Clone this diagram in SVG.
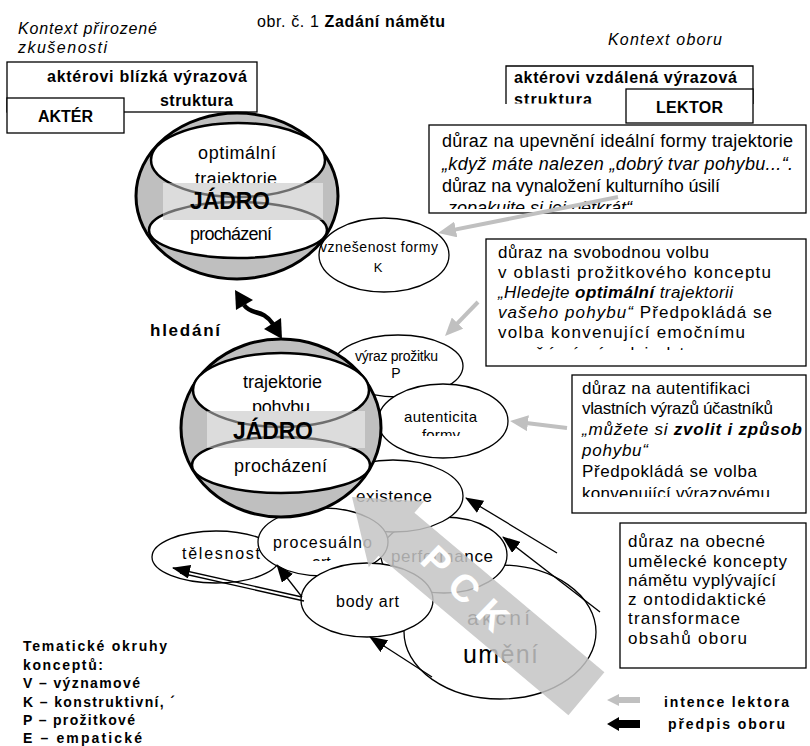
<svg xmlns="http://www.w3.org/2000/svg" width="810" height="746" viewBox="0 0 810 746">
<defs>
<style>
text{font-family:"Liberation Sans",Arial,sans-serif;fill:#000}
.box{fill:#fff;stroke:#000;stroke-width:1.3}
.b{font-weight:bold}
.i{font-style:italic}
.t14{font-size:14px}
.t16{font-size:16px}
.t17{font-size:17px}
.t18{font-size:18px}
.el{fill:#fff;stroke:#000;stroke-width:1.3}
.sph{fill:#bfbfbf;stroke:#000;stroke-width:3}
.inner{fill:#fff;stroke:#000;stroke-width:2.5}
.band{fill:#dcdcdc}
.gcurve{fill:none;stroke:#6e6e6e;stroke-width:2.5}
.conn{stroke:#000;stroke-width:1.3;fill:none;marker-end:url(#ah)}
.line{stroke:#000;stroke-width:1.3;fill:none}
.gconn{stroke:#c0c0c0;stroke-width:4;fill:none;marker-end:url(#gah)}
.mid{text-anchor:middle}
</style>
<marker id="ah" viewBox="0 0 18 14" markerWidth="18" markerHeight="14" refX="17" refY="7" orient="auto" markerUnits="userSpaceOnUse"><path d="M0,0 L18,7 L0,14 z" fill="#000"/></marker>
<marker id="gah" viewBox="0 0 18 16" markerWidth="18" markerHeight="16" refX="10" refY="8" orient="auto" markerUnits="userSpaceOnUse"><path d="M0,0 L18,8 L0,16 z" fill="#c0c0c0"/></marker>
<clipPath id="c-b2"><rect x="506" y="66" width="247" height="37.5"/></clipPath>
<clipPath id="c-b3"><rect x="429" y="125" width="377" height="84"/></clipPath>
<clipPath id="c-b4"><rect x="486" y="239" width="320" height="111"/></clipPath>
<clipPath id="c-b5"><rect x="572" y="375" width="234" height="122"/></clipPath>
<clipPath id="c-aut"><rect x="380" y="380" width="130" height="56"/></clipPath>
<clipPath id="c-proc"><rect x="258" y="505" width="130" height="56"/></clipPath>
<clipPath id="c-band1"><rect x="163" y="183" width="160" height="37"/></clipPath>
<clipPath id="c-band2"><rect x="207" y="411" width="158" height="37"/></clipPath>
</defs>
<rect width="810" height="746" fill="#fff"/>

<g id="titles">
<text class="i t16" x="18" y="34" textLength="139" lengthAdjust="spacing">Kontext přirozené</text>
<text class="i t16" x="18" y="53" textLength="89" lengthAdjust="spacing">zkušenosti</text>
<text class="t16" x="257" y="27" textLength="188" lengthAdjust="spacing">obr. č. 1 <tspan class="b">Zadání námětu</tspan></text>
<text class="i t16" x="608" y="45" textLength="114" lengthAdjust="spacing">Kontext oboru</text>
</g>

<g id="box-blizka">
<rect class="box" x="7" y="62" width="250" height="50"/>
<text class="b t16" x="47" y="82" textLength="200" lengthAdjust="spacing">aktérovi blízká výrazová</text>
<text class="b t16" x="160" y="106" textLength="73" lengthAdjust="spacing">struktura</text>
</g>
<g id="box-akter">
<rect class="box" x="7" y="98" width="117" height="35"/>
<text class="b t16" x="38" y="122" textLength="55" lengthAdjust="spacing">AKTÉR</text>
</g>

<g id="box-vzdalena">
<rect x="506" y="66" width="247" height="38" fill="#fff"/>
<path class="line" d="M506,104 V66 H753 V104"/>
<g clip-path="url(#c-b2)">
<text class="b t16" x="514" y="83" textLength="223" lengthAdjust="spacing">aktérovi vzdálená výrazová</text>
<text class="b t16" x="514" y="105" textLength="78" lengthAdjust="spacing">struktura</text>
</g>
</g>
<g id="box-lektor">
<rect class="box" x="626" y="89" width="127" height="34"/>
<text class="b t16" x="656" y="113" textLength="67" lengthAdjust="spacing">LEKTOR</text>
</g>

<g id="box-upevneni">
<rect class="box" x="429" y="125" width="377" height="88"/>
<g clip-path="url(#c-b3)">
<text class="t18" x="442" y="147" textLength="351" lengthAdjust="spacing">důraz na upevnění ideální formy trajektorie</text>
<text class="t18 i" x="442" y="170" textLength="351" lengthAdjust="spacing">„když máte nalezen „dobrý tvar pohybu...“.</text>
<text class="t18" x="442" y="192" textLength="278" lengthAdjust="spacing">důraz na vynaložení kulturního úsilí</text>
<text class="t18 i" x="442" y="214" textLength="190" lengthAdjust="spacing">„zopakujte si jej pětkrát“</text>
</g>
</g>

<g id="box-svobodna">
<rect class="box" x="486" y="239" width="320" height="127"/>
<g clip-path="url(#c-b4)">
<text class="t17" x="498" y="258" textLength="211" lengthAdjust="spacing">důraz na svobodnou volbu</text>
<text class="t17" x="498" y="278" textLength="273" lengthAdjust="spacing">v oblasti prožitkového konceptu</text>
<text class="t17 i" x="498" y="298" textLength="235" lengthAdjust="spacing">„Hledejte <tspan class="b">optimální</tspan> trajektorii</text>
<text class="t17" x="498" y="318" textLength="274" lengthAdjust="spacing"><tspan class="i">vašeho pohybu“</tspan> Předpokládá se</text>
<text class="t17" x="498" y="338" textLength="247" lengthAdjust="spacing">volba konvenující emočnímu</text>
<text class="t17" x="498" y="359" textLength="200" lengthAdjust="spacing">prožívání objektu</text>
</g>
</g>

<g id="box-autentifikace">
<rect class="box" x="572" y="375" width="234" height="138"/>
<g clip-path="url(#c-b5)">
<text class="t17" x="582" y="394" textLength="168" lengthAdjust="spacing">důraz na autentifikaci</text>
<text class="t17" x="582" y="414" textLength="191" lengthAdjust="spacing">vlastních výrazů účastníků</text>
<text class="t17 i" x="582" y="435" textLength="220" lengthAdjust="spacing">„můžete si <tspan class="b">zvolit i způsob</tspan></text>
<text class="t17 i" x="582" y="456" textLength="66" lengthAdjust="spacing">pohybu“</text>
<text class="t17" x="582" y="477" textLength="175" lengthAdjust="spacing">Předpokládá se volba</text>
<text class="t17" x="582" y="499" textLength="188" lengthAdjust="spacing">konvenující výrazovému</text>
</g>
</g>

<g id="box-obecne">
<rect class="box" x="620" y="523" width="186" height="145"/>
<text class="t17" x="628" y="547" textLength="137" lengthAdjust="spacing">důraz na obecné</text>
<text class="t17" x="628" y="567" textLength="159" lengthAdjust="spacing">umělecké koncepty</text>
<text class="t17" x="628" y="586" textLength="148" lengthAdjust="spacing">námětu vyplývající</text>
<text class="t17" x="628" y="605" textLength="138" lengthAdjust="spacing">z ontodidaktické</text>
<text class="t17" x="628" y="624" textLength="112" lengthAdjust="spacing">transformace</text>
<text class="t17" x="628" y="644" textLength="119" lengthAdjust="spacing">obsahů oboru</text>
</g>

<g id="vznesenost">
<ellipse class="el" cx="384" cy="255" rx="65" ry="37"/>
<text x="320" y="252" font-size="14" textLength="118" lengthAdjust="spacing">vznešenost formy</text>
<text class="mid" x="378" y="272" font-size="13">K</text>
</g>

<g id="jadro1">
<ellipse class="sph" cx="237" cy="196" rx="101" ry="83"/>
<ellipse class="inner" cx="238" cy="160" rx="87" ry="37"/>
<ellipse class="inner" cx="238" cy="230" rx="89" ry="28"/>
<text class="t18" x="198" y="159" textLength="78" lengthAdjust="spacing">optimální</text>
<text class="t18" x="195" y="185" textLength="82" lengthAdjust="spacing">trajektorie</text>
<text class="t18" x="190" y="240" textLength="82" lengthAdjust="spacing">procházení</text>
<rect class="band" x="163" y="183" width="160" height="37"/>
<g clip-path="url(#c-band1)">
<ellipse class="gcurve" cx="238" cy="160" rx="87" ry="37"/>
<ellipse class="gcurve" cx="238" cy="230" rx="89" ry="28"/>
</g>
<text class="b" x="190" y="209" font-size="23" textLength="80" lengthAdjust="spacing">JÁDRO</text>
</g>

<g id="akcni-umeni">
<ellipse class="el" cx="500" cy="632" rx="96" ry="67"/>
<text x="467" y="625" font-size="21" textLength="63" lengthAdjust="spacing">akční</text>
<text x="463" y="663" font-size="25" textLength="75" lengthAdjust="spacing">umění</text>
</g>
<g id="performance">
<ellipse class="el" cx="444" cy="555" rx="63" ry="38"/>
<text class="t17" x="391" y="562" textLength="102" lengthAdjust="spacing">performance</text>
</g>
<g id="existence">
<ellipse class="el" cx="393" cy="496" rx="70" ry="36"/>
<text class="t17" x="356" y="502" textLength="76" lengthAdjust="spacing">existence</text>
</g>
<g id="telesnost">
<ellipse class="el" cx="216" cy="557" rx="64" ry="26"/>
<text class="t16" x="182" y="559" textLength="78" lengthAdjust="spacing">tělesnost</text>
</g>
<g id="procesualno">
<ellipse class="el" cx="323" cy="542" rx="65" ry="34"/>
<g clip-path="url(#c-proc)">
<text class="t16" x="273" y="548" textLength="99" lengthAdjust="spacing">procesuálno</text>
<text class="t16" x="312" y="568">art</text>
</g>
</g>
<g id="body-art">
<ellipse class="el" cx="367" cy="600" rx="66" ry="37"/>
<text class="t16" x="336" y="607" textLength="63" lengthAdjust="spacing">body art</text>
</g>
<g id="vyraz">
<ellipse class="el" cx="398" cy="366" rx="65" ry="31"/>
<text x="355" y="361" font-size="14" textLength="83" lengthAdjust="spacing">výraz prožitku</text>
<text class="mid" x="396" y="378" font-size="14">P</text>
</g>
<g id="autenticita">
<ellipse class="el" cx="443" cy="421" rx="65" ry="37"/>
<g clip-path="url(#c-aut)">
<text x="404" y="422" font-size="15" textLength="73" lengthAdjust="spacing">autenticita</text>
<text x="422" y="440" font-size="15" textLength="38" lengthAdjust="spacing">formy</text>
</g>
</g>

<g id="jadro2">
<ellipse class="sph" cx="281" cy="428" rx="100" ry="89"/>
<ellipse class="inner" cx="281" cy="390" rx="88" ry="37"/>
<ellipse class="inner" cx="281" cy="465" rx="89" ry="28"/>
<text class="t18" x="243" y="388" textLength="79" lengthAdjust="spacing">trajektorie</text>
<text class="t18" x="252" y="413" textLength="58" lengthAdjust="spacing">pohybu</text>
<text class="t18" x="234" y="472" textLength="93" lengthAdjust="spacing">procházení</text>
<rect class="band" x="207" y="411" width="158" height="37"/>
<g clip-path="url(#c-band2)">
<ellipse class="gcurve" cx="281" cy="390" rx="88" ry="37"/>
<ellipse class="gcurve" cx="281" cy="465" rx="89" ry="28"/>
</g>
<text class="b" x="233" y="439" font-size="23" textLength="80" lengthAdjust="spacing">JÁDRO</text>
</g>

<g id="connectors">
<line class="gconn" x1="618" y1="197" x2="446" y2="231.4"/>
<line class="gconn" x1="478" y1="302" x2="450.6" y2="330.3"/>
<line class="gconn" x1="567" y1="428" x2="518" y2="422"/>
<line class="conn" x1="557" y1="553" x2="466" y2="498"/>
<line class="conn" x1="600" y1="612" x2="503" y2="537"/>
<line class="conn" x1="302" y1="597" x2="173" y2="568"/>
<line class="line" x1="304" y1="601" x2="180" y2="573"/>
<line class="conn" x1="302" y1="597" x2="277" y2="565"/>
<line class="conn" x1="432" y1="677" x2="370" y2="637"/>
<path d="M244,305 C252,316 262,308 273,324" fill="none" stroke="#000" stroke-width="4.5"/>
<polygon points="235,290 253,300 236,310" fill="#000"/>
<polygon points="282,339 281,318 264,329" fill="#000"/>
</g>

<g id="hledani">
<text class="b t17" x="150" y="336" textLength="70" lengthAdjust="spacing">hledání</text>
</g>

<g id="pck">
<polygon transform="translate(352,497) rotate(40)" points="0,0 58,-43 58,-28 306,-28 306,28 58,28 58,43" fill="#c4c4c4" opacity="0.85"/>
<text transform="translate(470,592) rotate(44)" class="b mid" x="0" y="14" font-size="38" letter-spacing="12" style="fill:#fff">PCK</text>
</g>

<g id="legend-left">
<text class="b t14" x="23" y="651" textLength="144" lengthAdjust="spacing">Tematické okruhy</text>
<text class="b t14" x="23" y="669.5" textLength="80" lengthAdjust="spacing">konceptů:</text>
<text class="b t14" x="23" y="688" textLength="117" lengthAdjust="spacing">V – významové</text>
<text class="b t14" x="23" y="706.5" textLength="152" lengthAdjust="spacing">K – konstruktivní, ´</text>
<text class="b t14" x="23" y="725" textLength="112" lengthAdjust="spacing">P – prožitkové</text>
<text class="b t14" x="23" y="743" textLength="119" lengthAdjust="spacing">E – empatické</text>
</g>

<g id="legend-right">
<polygon points="607,700 619,694 619,697 640,697 640,703 619,703 619,706" fill="#c0c0c0"/>
<polygon points="607,724 619,717 619,720 640,720 640,728 619,728 619,731" fill="#000"/>
<text class="b t14" x="664" y="707" textLength="125" lengthAdjust="spacing">intence lektora</text>
<text class="b t14" x="668" y="729" textLength="117" lengthAdjust="spacing">předpis oboru</text>
</g>
</svg>
